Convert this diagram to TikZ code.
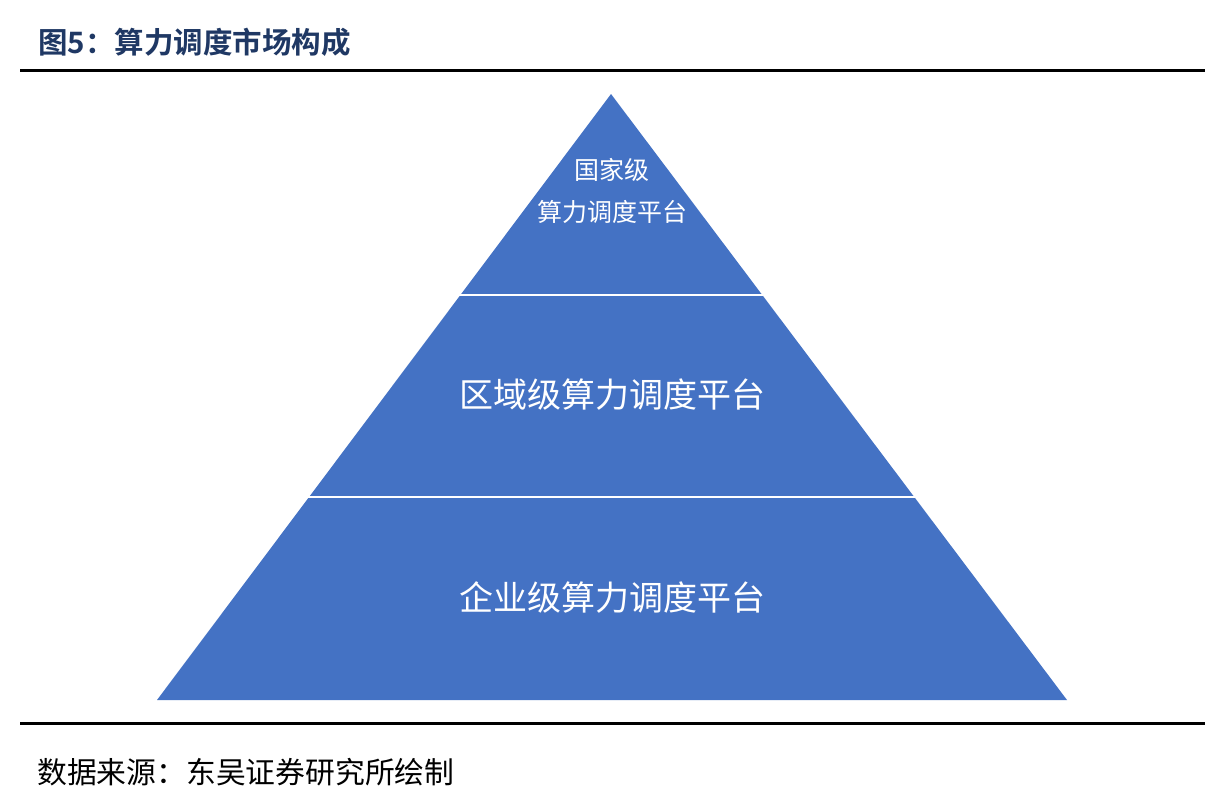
\documentclass[tikz,border=0pt]{standalone}
\usepackage{fontspec}
\newfontfamily\cjk{Noto Sans CJK SC}
\newfontfamily\cjkb{Noto Sans CJK SC Bold}
\definecolor{pyrblue}{HTML}{4472C4}
\definecolor{titlenavy}{HTML}{1F3864}
\begin{document}
\begin{tikzpicture}[x=1pt,y=-1pt,
  lbl/.style={text=white,font=\cjk,inner sep=0pt,anchor=center},
  rule/.style={line width=3pt,black}]
\useasboundingbox (0,0) rectangle (1226,795);
\fill[white] (0,0) rectangle (1226,795);
% title
\node[anchor=west,inner sep=0pt,text=titlenavy,font=\cjkb\fontsize{29.5}{34}\selectfont] (title) at (38,42) {图5：算力调度市场构成};
\draw[rule] (20,70) -- (1205,70);
% pyramid
\coordinate (apex) at (611,94);
\coordinate (bl) at (157,700);
\coordinate (br) at (1067,700);
\fill[pyrblue] (apex) -- (bl) -- (br) -- cycle;
\draw[white,line width=2pt] (459,295) -- (763,295);
\draw[white,line width=2pt] (307,497) -- (915,497);
% labels
\node[lbl,font=\cjk\fontsize{25}{30}\selectfont] (t1) at (612,170) {国家级};
\node[lbl,font=\cjk\fontsize{25}{30}\selectfont] (t2) at (612,212) {算力调度平台};
\node[lbl,font=\cjk\fontsize{34}{38}\selectfont] (mid) at (612,395) {区域级算力调度平台};
\node[lbl,font=\cjk\fontsize{34}{38}\selectfont] (bot) at (612,597) {企业级算力调度平台};
% bottom
\draw[rule] (20,723) -- (1205,723);
\node[anchor=west,inner sep=0pt,font=\cjk\fontsize{29.8}{34}\selectfont] (src) at (37,772) {数据来源：东吴证券研究所绘制};
\end{tikzpicture}
\end{document}
